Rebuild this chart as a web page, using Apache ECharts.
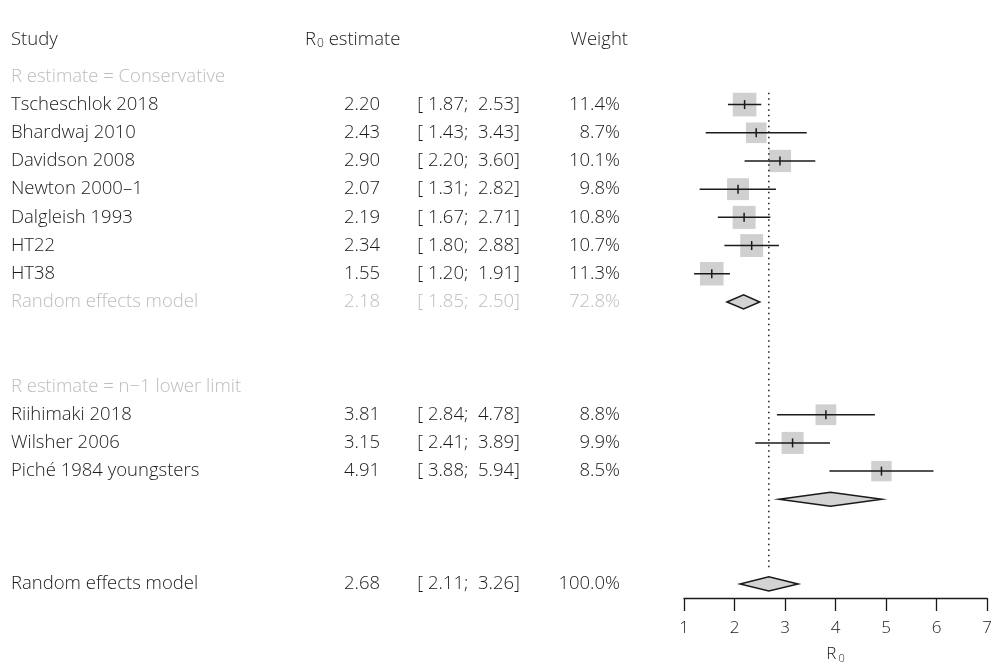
<!DOCTYPE html>
<html>
<head>
<meta charset="utf-8">
<script src="https://cdn.jsdelivr.net/npm/echarts@6/dist/echarts.min.js"></script>
<style>
  html, body { margin: 0; padding: 0; background: #fff; }
  #forest { width: 1003px; height: 669px; }
</style>
</head>
<body>
<div id="forest"></div>
<script>
// studies, estimates, 95% CI, weights, plotting rows
var studies = ['Tscheschlok 2018', 'Bhardwaj 2010', 'Davidson 2008', 'Newton 2000–1', 'Dalgleish 1993', 'HT22', 'HT38',
               'Riihimaki 2018', 'Wilsher 2006', 'Piché 1984 youngsters'];
var est    = [2.20, 2.43, 2.90, 2.07, 2.19, 2.34, 1.55, 3.81, 3.15, 4.91];
var lower  = [1.87, 1.43, 2.20, 1.31, 1.67, 1.80, 1.20, 2.84, 2.41, 3.88];
var upper  = [2.53, 3.43, 3.60, 2.82, 2.71, 2.88, 1.91, 4.78, 3.89, 5.94];
var weight = [11.4, 8.7, 10.1, 9.8, 10.8, 10.7, 11.3, 8.8, 9.9, 8.5];
var studyRows = [3, 4, 5, 6, 7, 8, 9, 14, 15, 16];

// pooled estimates (subgroup 1, subgroup 2, overall)
var modelNames  = ['Random effects model', '', 'Random effects model'];
var modelEst    = [2.18, 3.90, 2.68];
var modelLower  = [1.85, 2.88, 2.11];
var modelUpper  = [2.50, 4.92, 3.26];
var modelWeight = ['72.8%', '', '100.0%'];
var modelRows   = [10, 17, 20];
var modelGrey   = [true, false, false];

// subgroup headings
var groupLabels = ['R estimate = Conservative', 'R estimate = n\u22121 lower limit'];
var groupRows   = [2, 13];

var xTicks = [1, 2, 3, 4, 5, 6, 7];
var overall = 2.68;

var FONT = '"Open Sans", "Noto Sans", sans-serif';
var DARK = '#1a1a1a';
var GREY = '#bcbcbc';

function ciText(l, h) { return '[ ' + l.toFixed(2) + ';  ' + h.toFixed(2) + ']'; }

// table rows of text
var textRows = [];
textRows.push({ row: 0.7, header: true });
groupRows.forEach(function (r, i) { textRows.push({ row: r, name: groupLabels[i], grey: true }); });
studies.forEach(function (s, i) {
  textRows.push({ row: studyRows[i], name: s, est: est[i].toFixed(2),
    ci: ciText(lower[i], upper[i]), w: weight[i].toFixed(1) + '%' });
});
modelNames.forEach(function (m, i) {
  if (!m) return;
  textRows.push({ row: modelRows[i], name: m, est: modelEst[i].toFixed(2),
    ci: ciText(modelLower[i], modelUpper[i]), w: modelWeight[i], grey: modelGrey[i] });
});

function txt(x, y, s, align, color) {
  return { type: 'text', x: x, y: y,
    style: { text: s, fill: color, font: '300 18.5px ' + FONT, textAlign: align, textVerticalAlign: 'middle' } };
}

var chart = echarts.init(document.getElementById('forest'));
var option = {
  animation: false,
  grid: { left: 684, right: 16, top: 20, bottom: 69 },
  xAxis: {
    type: 'value', min: 1, max: 7, interval: 1, position: 'bottom',
    splitLine: { show: false },
    axisLine: { show: true, onZero: false, lineStyle: { color: DARK, width: 1.3 } },
    axisTick: { show: true, length: 13, lineStyle: { color: DARK, width: 1.3 } },
    axisLabel: { margin: 22, fontSize: 17, fontFamily: FONT, fontWeight: 300, color: DARK,
      customValues: xTicks },
    name: '{r|R}{s|0}', nameLocation: 'middle', nameGap: 47,
    nameTextStyle: { rich: {
      r: { fontSize: 17, fontFamily: FONT, fontWeight: 300, color: DARK },
      s: { fontSize: 11, fontFamily: FONT, fontWeight: 300, color: DARK, padding: [8, 0, 0, 2] }
    } }
  },
  yAxis: { type: 'value', min: 0, max: 20.5, inverse: true, show: false },
  series: [
    {
      // reference line at the overall estimate
      type: 'line', symbol: 'none', silent: true,
      lineStyle: { color: DARK, width: 1.5, type: [1.5, 4] },
      data: [[overall, 2.58], [overall, 19.55]]
    },
    {
      // study squares + CI
      type: 'custom', clip: false,
      data: studies.map(function (s, i) { return [est[i], studyRows[i], lower[i], upper[i], weight[i]]; }),
      renderItem: function (params, api) {
        var c = api.coord([api.value(0), api.value(1)]);
        var l = api.coord([api.value(2), api.value(1)]);
        var h = api.coord([api.value(3), api.value(1)]);
        var sz = 7 * Math.sqrt(api.value(4));
        return { type: 'group', children: [
          { type: 'rect', shape: { x: c[0] - sz / 2, y: c[1] - sz / 2, width: sz, height: sz },
            style: { fill: '#d0d0d0' } },
          { type: 'line', shape: { x1: l[0], y1: c[1], x2: h[0], y2: c[1] },
            style: { stroke: DARK, lineWidth: 1.5 } },
          { type: 'line', shape: { x1: c[0], y1: c[1] - 4.5, x2: c[0], y2: c[1] + 4.5 },
            style: { stroke: DARK, lineWidth: 1.5 } }
        ] };
      }
    },
    {
      // pooled diamonds
      type: 'custom', clip: false,
      data: modelEst.map(function (e, i) { return [e, modelRows[i], modelLower[i], modelUpper[i]]; }),
      renderItem: function (params, api) {
        var r = api.value(1);
        var pts = [
          api.coord([api.value(2), r]),
          api.coord([api.value(0), r - 0.25]),
          api.coord([api.value(3), r]),
          api.coord([api.value(0), r + 0.25])
        ];
        return { type: 'polygon', shape: { points: pts },
          style: { fill: '#d3d3d3', stroke: DARK, lineWidth: 1.5 } };
      }
    },
    {
      // text columns
      type: 'custom', clip: false, silent: true,
      data: textRows.map(function (t, i) { return [1, t.row, i]; }),
      renderItem: function (params, api) {
        var t = textRows[api.value(2)];
        var y = api.coord([1, api.value(1)])[1];
        var col = t.grey ? GREY : DARK;
        if (t.header) {
          return { type: 'group', children: [
            txt(11, y, 'Study', 'left', DARK),
            { type: 'text', x: 305, y: y, style: {
                text: '{r|R}{s|0}{r| estimate}', textAlign: 'left', textVerticalAlign: 'middle',
                rich: {
                  r: { fontSize: 18.5, fontFamily: FONT, fontWeight: 300, fill: DARK },
                  s: { fontSize: 12, fontFamily: FONT, fontWeight: 300, fill: DARK, padding: [8, 0, 0, 1] }
                } } },
            txt(628, y, 'Weight', 'right', DARK)
          ] };
        }
        var ch = [txt(11, y, t.name, 'left', col)];
        if (t.est) {
          ch.push(txt(380, y, t.est, 'right', col));
          ch.push(txt(520, y, t.ci, 'right', col));
          ch.push(txt(620, y, t.w, 'right', col));
        }
        return { type: 'group', children: ch };
      }
    }
  ]
};
chart.setOption(option);
</script>
</body>
</html>
